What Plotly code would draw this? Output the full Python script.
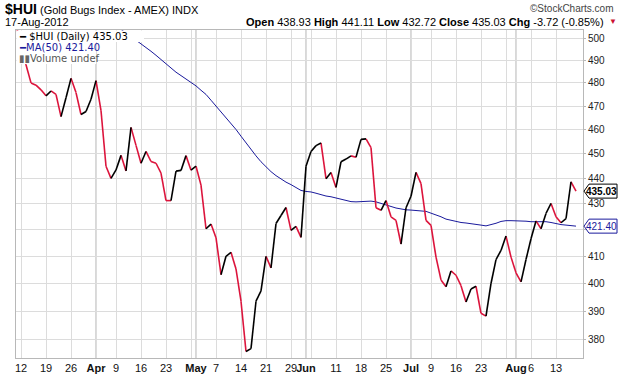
import math
import pandas as pd
import plotly.graph_objects as go

# ---------------- data ----------------
holidays = ["2012-04-06", "2012-05-28", "2012-07-04"]
dates = [d.strftime("%Y-%m-%d") for d in
         pd.bdate_range("2012-03-09", "2012-08-17", freq="C", holidays=holidays)]

close = [506, 497, 488, 480, 479, 477, 474.4, 476.5, 475, 465.5,
         473.6, 482, 475.8, 466.4, 467.7, 472.9, 481, 468.1, 445, 440.1,
         443.5, 449.4, 443.1, 461, 453.5, 446.2, 451, 446.9, 446.2, 442.2,
         431.3, 431.3, 443, 443.3, 449.3, 443.4, 445, 437.4, 420.4, 422.2,
         417, 403.2, 410, 411.5, 405.3, 393.6, 376, 377, 393.6, 397.3,
         410, 405.7, 422.4, 425.5, 428.6, 419.8, 421.3, 417.1, 445, 451,
         453.4, 454.5, 440, 442.5, 436.5, 446.8, 447.9, 449.2, 448.6, 456,
         456.2, 452.6, 428.5, 427.5, 431.3, 425, 423.6, 414.6, 428.5, 433,
         442.5, 438, 423.6, 421.7, 409.7, 401.3, 398.8, 404.6, 403, 399.2,
         393.3, 398, 399, 389.3, 388.3, 400, 408.8, 412.2, 417.6, 409.7,
         403.9, 400.6, 408.8, 416.6, 423.4, 420.4, 426.3, 430.2, 425, 422.7,
         424.3, 438.75, 435.03]

ma_start = "2012-04-05"
ma50 = [507.0, 505.5, 504.1, 502.5, 500.8, 499.0, 497.4, 495.6, 494.0, 492.2,
        490.3, 488.3, 486.4, 484.7, 483.2, 481.7, 480.3, 478.7, 476.8, 475.0,
        472.5, 470.0, 467.7, 465.3, 462.8, 460.1, 457.3, 454.5, 451.8, 449.2,
        446.8, 444.7, 442.8, 441.2, 439.8, 438.6, 437.6, 436.5, 435.3, 434.9,
        434.7, 434.2, 433.5, 433.1, 432.8, 432.3, 431.8, 431.2, 430.9, 430.8,
        430.9, 431.0, 431.1, 430.8, 430.3, 429.8, 429.0, 428.4, 428.0, 427.7,
        427.6, 427.5, 427.4, 427.1, 426.4, 425.8, 425.0, 424.1, 423.6, 423.2,
        422.8, 422.6, 422.4, 422.2, 421.8, 421.5, 421.9, 422.5, 423.2, 423.5,
        423.5, 423.5, 423.4, 423.3, 423.1, 423.1, 423.1, 423.1, 422.8, 422.3,
        422.0, 421.8, 421.6, 421.4]

week_dates = ["2012-03-12", "2012-03-19", "2012-03-26", "2012-04-02", "2012-04-09",
              "2012-04-16", "2012-04-23", "2012-04-30", "2012-05-01", "2012-05-07",
              "2012-05-14", "2012-05-21", "2012-05-29", "2012-06-01", "2012-06-04",
              "2012-06-11", "2012-06-18", "2012-06-25", "2012-07-02", "2012-07-09",
              "2012-07-16", "2012-07-23", "2012-07-30", "2012-08-01", "2012-08-06",
              "2012-08-13"]
week_labels = ["12", "19", "26", "<b>Apr</b>", "9", "16", "23", "", "<b>May</b>", "7",
               "14", "21", "29", "<b>Jun</b>", "", "11", "18", "25", "<b>Jul</b>", "9",
               "16", "23", "", "<b>Aug</b>", "6", "13"]
month_dates = ["2012-04-02", "2012-05-01", "2012-06-01", "2012-07-02", "2012-08-01"]

y_ticks = [380, 390, 400, 410, 420, 430, 440, 450, 460, 470, 480, 490, 500]
y_tick_labels = ["380", "390", "400", "410", "", "430", "440", "450", "460", "470",
                 "480", "490", "500"]

header_open, header_high, header_low, header_close = "438.93", "441.11", "432.72", "435.03"
header_chg = "-3.72 (-0.85%)"

# ---------------- figure ----------------
W, H = 620, 376
ML, MR, MT, MB = 16, 37, 30, 18
PW, PH = W - ML - MR, H - MT - MB

def px(x):
    return (x - ML) / PW

def py(y):
    return 1 - (y - MT) / PH

xi = list(range(len(dates)))
UP, DOWN, MA_C = "#000000", "#dc143c", "#1a1a9c"

ux, uy, dx, dy = [], [], [], []
for i in range(1, len(close)):
    if close[i] > close[i - 1]:
        ux += [xi[i - 1], xi[i], None]; uy += [close[i - 1], close[i], None]
    else:
        dx += [xi[i - 1], xi[i], None]; dy += [close[i - 1], close[i], None]

ma_x = xi[dates.index(ma_start):]

fig = go.Figure()
fig.add_trace(go.Scatter(x=ma_x, y=ma50, mode="lines",
                         line=dict(color=MA_C, width=1), hoverinfo="skip"))
fig.add_trace(go.Scatter(x=dx, y=dy, mode="lines",
                         line=dict(color=DOWN, width=1.6), hoverinfo="skip"))
fig.add_trace(go.Scatter(x=ux, y=uy, mode="lines",
                         line=dict(color=UP, width=1.6), hoverinfo="skip"))

tick_idx = [dates.index(d) for d in week_dates]
ymin, ymax = 373.8, 503.65

fig.update_layout(
    width=W, height=H, showlegend=False,
    margin=dict(l=ML, r=MR, t=MT, b=MB, autoexpand=False),
    paper_bgcolor="white", plot_bgcolor="white",
    font=dict(family="Liberation Sans, Arial, sans-serif", size=11, color="#111"),
    xaxis=dict(range=[0, 113.4], tickmode="array", tickvals=tick_idx,
               ticktext=week_labels, tickangle=0, automargin=False,
               showgrid=True, gridcolor="#dcdcdc",
               gridwidth=1, zeroline=False, showline=True, linecolor="#b8b8b8",
               mirror=True, ticks="", ticklen=0,
               tickfont=dict(size=11, color="#111")),
    yaxis=dict(type="log", range=[math.log10(ymin), math.log10(ymax)],
               side="right", tickmode="array", tickvals=y_ticks, automargin=False,
               ticktext=y_tick_labels, showgrid=True, gridcolor="#dcdcdc",
               zeroline=False, showline=True, linecolor="#b8b8b8", mirror=True,
               ticks="outside", ticklen=2, tickcolor="#b8b8b8",
               tickfont=dict(size=10, color="#222")),
)

shapes = []
for d in month_dates:
    shapes.append(dict(type="line", xref="x", yref="paper", x0=dates.index(d),
                       x1=dates.index(d), y0=0, y1=1, layer="below",
                       line=dict(color="#b0b0b0", width=1)))

# right-side value tags (pentagon boxes)
def tag(value, color, bw):
    shapes.append(dict(type="path", xref="paper", yref="y",
                       xsizemode="pixel", ysizemode="pixel",
                       xanchor=1, yanchor=value,
                       path="M1,0 L6,-7 L%d,-7 L%d,7 L6,7 Z" % (bw, bw),
                       fillcolor="white", line=dict(color=color, width=1),
                       layer="above"))

tag(close[-1], "#000000", 34)
tag(ma50[-1], MA_C, 34)

# legend white backing
shapes.append(dict(type="rect", xref="paper", yref="paper", x0=px(16.5), x1=px(144),
                   y0=py(42), y1=py(30.5), fillcolor="white", line=dict(width=0),
                   layer="above"))
shapes.append(dict(type="rect", xref="paper", yref="paper", x0=px(16.5), x1=px(96),
                   y0=py(64), y1=py(42), fillcolor="white", line=dict(width=0),
                   layer="above"))

ann = []
ann.append(dict(xref="paper", yref="y", x=px(601.5), y=math.log10(close[-1]),
                text="<b>%.2f</b>" % close[-1], showarrow=False,
                font=dict(size=10, color="#000"), xanchor="center", yanchor="middle"))
ann.append(dict(xref="paper", yref="y", x=px(601.5), y=math.log10(ma50[-1]),
                text="%.2f" % ma50[-1], showarrow=False,
                font=dict(size=10, color=MA_C), xanchor="center", yanchor="middle"))

# header
ann.append(dict(xref="paper", yref="paper", x=px(3), y=py(8.5), xanchor="left",
                yanchor="middle", showarrow=False,
                text="<b>$HUI</b><span style='font-size:11px'> (Gold Bugs Index - AMEX) INDX</span>",
                font=dict(size=14, color="#000")))
ann.append(dict(xref="paper", yref="paper", x=px(616), y=py(8.5), xanchor="right",
                yanchor="middle", showarrow=False, text="©StockCharts.com",
                font=dict(size=10, color="#444")))
ann.append(dict(xref="paper", yref="paper", x=px(3), y=py(22), xanchor="left",
                yanchor="middle", showarrow=False, text="17-Aug-2012",
                font=dict(size=11, color="#000")))
ann.append(dict(xref="paper", yref="paper", x=px(606), y=py(22), xanchor="right",
                yanchor="middle", showarrow=False,
                text=("<b>Open</b> %s <b>High</b> %s <b>Low</b> %s <b>Close</b> %s <b>Chg</b> %s"
                      % (header_open, header_high, header_low, header_close, header_chg)),
                font=dict(size=11, color="#000")))
ann.append(dict(xref="paper", yref="paper", x=px(607), y=py(22), xanchor="left",
                yanchor="middle", showarrow=False, text="▼",
                font=dict(size=8, color="#cc1133")))

# legend rows
LF = "DejaVu Sans, Verdana, sans-serif"
legend_rows = [("<b>━</b> $HUI (Daily) %.2f" % close[-1], "#000", 36.5),
               ("<b>━</b>MA(50) %.2f" % ma50[-1], MA_C, 47.5),
               ("<span style='color:#666'>▮▮</span>Volume undef", "#555", 58.5)]
for txt, col, yy in legend_rows:
    ann.append(dict(xref="paper", yref="paper", x=px(17), y=py(yy), xanchor="left",
                    yanchor="middle", showarrow=False, align="left", text=txt,
                    font=dict(family=LF, size=10, color=col)))

fig.update_layout(shapes=shapes, annotations=ann)
fig.write_html("out.html", config={"displayModeBar": False},
               post_script="document.body.style.margin='0px';"
                           "document.body.style.overflow='hidden';")
